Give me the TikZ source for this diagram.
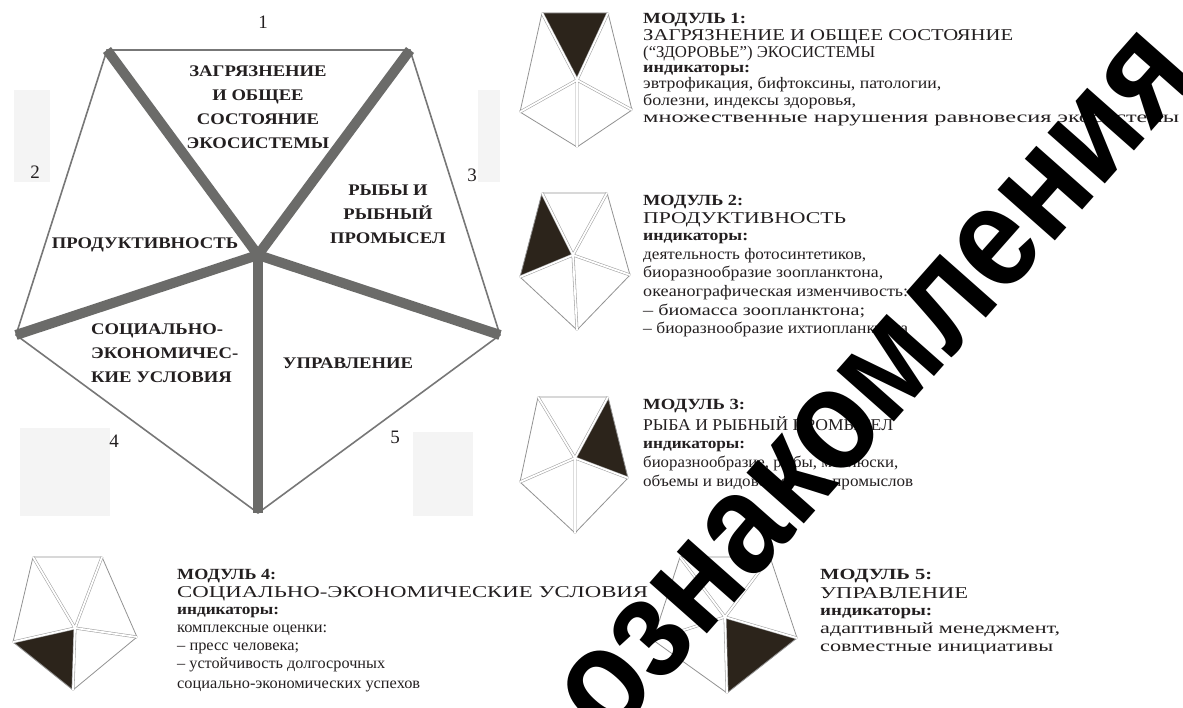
\documentclass[tikz,border=0pt]{standalone}
\usepackage{graphicx}
\usepackage{fontspec}
\setmainfont{Liberation Serif}
\newfontfamily\widefont[FakeStretch=1.15]{Liberation Serif}
\newfontfamily\wmfont[FakeStretch=0.87]{Liberation Sans}
\definecolor{ink}{HTML}{231F20}
\definecolor{spokegray}{HTML}{6B6B69}
\definecolor{edgegray}{HTML}{777777}
\definecolor{darkfill}{HTML}{2C241B}
\definecolor{faint}{HTML}{F4F4F4}
\newcommand\fw[2]{\resizebox{#1pt}{\height}{#2}}
\newcommand\drawicon[1]{%
  \draw[iconedge] (#1TL)--(#1TR)--(#1R)--(#1B)--(#1L)--cycle;
  \draw[iconspoke] (#1C)--(#1TL) (#1C)--(#1TR) (#1C)--(#1L) (#1C)--(#1R) (#1C)--(#1B);
}
\begin{document}
\begin{tikzpicture}[x=1pt,y=-1pt,
  outline/.style={draw=edgegray,line width=1.6pt,line join=miter},
  spoke/.style={draw=spokegray,line width=10pt},
  seclabel/.style={text=ink,font=\bfseries\widefont\fontsize{16.2}{24}\selectfont,align=center,inner sep=0pt},
  numlabel/.style={text=ink,font=\fontsize{19}{20}\selectfont,inner sep=0pt},
  iconedge/.style={draw=edgegray!80,line width=0.8pt,line join=miter},
  iconspoke/.style={draw=edgegray!70,double=white,double distance=1.8pt,line width=0.55pt},
  darkpart/.style={fill=darkfill},
  hd/.style={text=ink,font=\bfseries\fontsize{15.5}{18}\selectfont,anchor=base west,inner sep=0pt},
  tt/.style={text=ink,font=\fontsize{16.5}{18}\selectfont,anchor=base west,inner sep=0pt},
  ind/.style={text=ink,font=\bfseries\fontsize{15.5}{16}\selectfont,anchor=base west,inner sep=0pt},
  bd/.style={text=ink,font=\fontsize{16}{18}\selectfont,anchor=base west,inner sep=0pt},
  wm/.style={text=black,font=\wmfont\bfseries\fontsize{145}{147}\selectfont,inner sep=0pt}
]
\useasboundingbox (0,0) rectangle (1183,708);
\fill[white] (0,0) rectangle (1183,708);
% faint background patches
\fill[faint] (14,90) rectangle (50,182);
\fill[faint] (478,90) rectangle (500,182);
\fill[faint] (20,428) rectangle (110,516);
\fill[faint] (413,432) rectangle (473,516);

% ---------------- big pentagon ----------------
\coordinate (PTL) at (107,50);
\coordinate (PTR) at (410,50);
\coordinate (PL) at (16,335);
\coordinate (PR) at (500,335);
\coordinate (PB) at (258,513);
\coordinate (PC) at (258,255);
\draw[outline] (PTL)--(PTR)--(PR)--(PB)--(PL)--cycle;
\draw[spoke] (PTL)--(PC)--(PTR);
\draw[spoke] (PL)--(PC)--(PR);
\draw[spoke] (PC)--(PB);

\node[seclabel] (s1) at (258,107) {ЗАГРЯЗНЕНИЕ\\И ОБЩЕЕ\\СОСТОЯНИЕ\\ЭКОСИСТЕМЫ};
\node[seclabel] (s3) at (388,214) {РЫБЫ И\\РЫБНЫЙ\\ПРОМЫСЕЛ};
\node[seclabel] (s2) at (145,245) {ПРОДУКТИВНОСТЬ};
\node[seclabel,align=left,anchor=west] (s4) at (91,353) {СОЦИАЛЬНО-\\ЭКОНОМИЧЕС-\\КИЕ УСЛОВИЯ};
\node[seclabel] (s5) at (348,363) {УПРАВЛЕНИЕ};

\node[numlabel] (n1) at (263,22) {1};
\node[numlabel] (n2) at (35,172) {2};
\node[numlabel] (n3) at (472,175) {3};
\node[numlabel] (n4) at (114,441) {4};
\node[numlabel] (n5) at (395,437) {5};

% ---------------- icons ----------------
\coordinate (aTL) at (542,13); \coordinate (aTR) at (608,13); \coordinate (aC) at (577,80);
\coordinate (aL) at (520,112); \coordinate (aR) at (632,110); \coordinate (aB) at (577,147);
\fill[darkpart] (aTL)--(aTR)--(aC)--cycle;
\drawicon{a}
\coordinate (bTL) at (542,193); \coordinate (bTR) at (607,193); \coordinate (bC) at (573,255);
\coordinate (bL) at (520,277); \coordinate (bR) at (630,275); \coordinate (bB) at (577,330);
\fill[darkpart] (bTL)--(bC)--(bL)--cycle;
\drawicon{b}
\coordinate (cTL) at (538,397); \coordinate (cTR) at (608,397); \coordinate (cC) at (575,458);
\coordinate (cL) at (520,482); \coordinate (cR) at (628,478); \coordinate (cB) at (575,533);
\fill[darkpart] (cTR)--(cR)--(cC)--cycle;
\drawicon{c}
\coordinate (dTL) at (33,557); \coordinate (dTR) at (102,557); \coordinate (dC) at (75,628);
\coordinate (dL) at (13,642); \coordinate (dR) at (137,637); \coordinate (dB) at (73,690);
\fill[darkpart] (dC)--(dL)--(dB)--cycle;
\drawicon{d}
\coordinate (eTL) at (680,557); \coordinate (eTR) at (770,557); \coordinate (eC) at (725,617);
\coordinate (eL) at (653,640); \coordinate (eR) at (797,638); \coordinate (eB) at (727,693);
\fill[darkpart] (eC)--(eR)--(eB)--cycle;
\drawicon{e}

% ---------------- module texts ----------------
\node[hd] (m1a) at (643,24) {\fw{103}{МОДУЛЬ 1:}};
\node[tt] (m1b) at (643,41) {\fw{370}{ЗАГРЯЗНЕНИЕ И ОБЩЕЕ СОСТОЯНИЕ}};
\node[tt] (m1c) at (643,58) {\fw{232}{(“ЗДОРОВЬЕ”) ЭКОСИСТЕМЫ}};
\node[ind] (m1d) at (643,73) {\fw{107}{индикаторы:}};
\node[bd] (m1e) at (643,89) {\fw{298}{эвтрофикация, бифтоксины, патологии,}};
\node[bd] (m1f) at (643,106) {\fw{213}{болезни, индексы здоровья,}};
\node[bd] (m1g) at (643,123) {\fw{536}{множественные нарушения равновесия экосистемы}};

\node[hd] (m2a) at (643,206) {\fw{100}{МОДУЛЬ 2:}};
\node[tt] (m2b) at (643,224) {\fw{203}{ПРОДУКТИВНОСТЬ}};
\node[ind] (m2c) at (643,241) {\fw{105}{индикаторы:}};
\node[bd] (m2d) at (643,260) {\fw{223}{деятельность фотосинтетиков,}};
\node[bd] (m2e) at (643,278) {\fw{240}{биоразнообразие зоопланктона,}};
\node[bd] (m2f) at (643,297) {\fw{265}{океанографическая изменчивость:}};
\node[bd] (m2g) at (643,316) {\fw{222}{– биомасса зоопланктона;}};
\node[bd] (m2h) at (643,334) {\fw{265}{– биоразнообразие ихтиопланктона}};

\node[hd] (m3a) at (643,409) {\fw{102}{МОДУЛЬ 3:}};
\node[tt] (m3b) at (643,430) {\fw{250}{РЫБА И РЫБНЫЙ ПРОМЫСЕЛ}};
\node[ind] (m3c) at (643,448) {\fw{102}{индикаторы:}};
\node[bd] (m3d) at (643,467) {\fw{255}{биоразнообразие, рыбы, моллюски,}};
\node[bd] (m3e) at (643,486) {\fw{270}{объемы и видовой состав промыслов}};

\node[hd] (m4a) at (177,579) {\fw{99}{МОДУЛЬ 4:}};
\node[tt] (m4b) at (177,597) {\fw{471}{СОЦИАЛЬНО-ЭКОНОМИЧЕСКИЕ УСЛОВИЯ}};
\node[ind] (m4c) at (177,614) {\fw{102}{индикаторы:}};
\node[bd] (m4d) at (177,632) {\fw{150}{комплексные оценки:}};
\node[bd] (m4e) at (177,650) {\fw{122}{– пресс человека;}};
\node[bd] (m4f) at (177,668) {\fw{208}{– устойчивость долгосрочных}};
\node[bd] (m4g) at (177,688) {\fw{243}{социально-экономических успехов}};

\node[hd] (m5a) at (820,579) {\fw{112}{МОДУЛЬ 5:}};
\node[tt] (m5b) at (820,598) {\fw{148}{УПРАВЛЕНИЕ}};
\node[ind] (m5c) at (820,615) {\fw{112}{индикаторы:}};
\node[bd] (m5d) at (820,633) {\fw{240}{адаптивный менеджмент,}};
\node[bd] (m5e) at (820,651) {\fw{233}{совместные инициативы}};

% ---------------- watermark ----------------
\begin{scope}
\clip (0,0) rectangle (1183,708);
\node[wm,rotate=48.5] (wmark) at (876,385) {ознакомления};
\end{scope}
\end{tikzpicture}
\end{document}
